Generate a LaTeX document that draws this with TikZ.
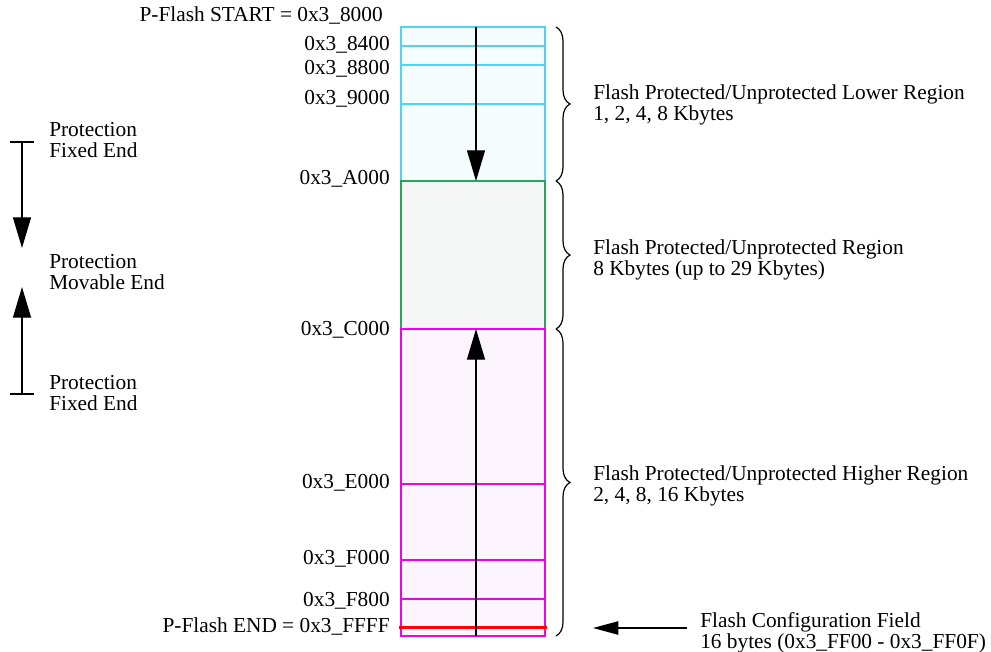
\documentclass[tikz,border=0pt]{standalone}
\usepackage{fontspec}
\setmainfont{Liberation Serif}
\usetikzlibrary{arrows.meta, positioning, decorations.pathreplacing}
\definecolor{lowline}{HTML}{4CD6F4}
\definecolor{lowfill}{HTML}{F5FCFE}
\definecolor{midline}{HTML}{28A660}
\definecolor{midfill}{HTML}{F4F7F5}
\definecolor{highline}{HTML}{F000F0}
\definecolor{highfill}{HTML}{FDF5FD}
\tikzset{
  addr/.style={anchor=base east, inner sep=0pt},
  note/.style={anchor=west, align=left, inner sep=0pt},
  bigtip/.style={-{Triangle[length=23pt, width=13.5pt]}, line width=1pt},
  smalltip/.style={-{Triangle[length=19pt, width=10pt]}, line width=1pt},
  regionbrace/.style={decorate, decoration={brace, amplitude=10.5pt}, line width=0.9pt}
}

\begin{document}
\begin{tikzpicture}[x=0.75pt, y=-0.75pt, every node/.style={font=\fontsize{16}{15.4}\selectfont}]
\useasboundingbox (0,0) rectangle (991,652);
% Lower region (cyan)
\fill[lowfill] (401,27) rectangle (545,181);
\foreach \yy in {46,65,104}
  \draw[lowline, line width=0.9pt] (401,\yy) -- (545,\yy);
\draw[lowline, line width=0.9pt] (401,181) -- (401,27) -- (545,27) -- (545,181);
% Middle region (green)
\fill[midfill] (401,181) rectangle (545,329);
\draw[midline, line width=0.9pt] (401,329) -- (401,181) -- (545,181) -- (545,329);
% Higher region (magenta)
\fill[highfill] (401,329) rectangle (545,636);
\foreach \yy in {484,560,599}
  \draw[highline, line width=0.9pt] (401,\yy) -- (545,\yy);
\draw[highline, line width=0.9pt] (401,329) rectangle (545,636);
% Configuration field
\draw[red, line width=2.2pt] (399,627.5) -- (547,627.5);
% Boundary points
\coordinate (flashtop) at (476,27);
\coordinate (atA000) at (476,181);
\coordinate (atC000) at (476,329);
\coordinate (flashbot) at (476,636);
% Addresses
\node[addr] (start) at (383,22) {P-Flash START = 0x3\_8000};
\node[addr] (a8400) at (390,51) {0x3\_8400};
\node[addr] (a8800) at (390,75) {0x3\_8800};
\node[addr] (a9000) at (390,105) {0x3\_9000};
\node[addr] (aA000) at (390,185) {0x3\_A000};
\node[addr] (aC000) at (390,335) {0x3\_C000};
\node[addr] (aE000) at (390,488) {0x3\_E000};
\node[addr] (aF000) at (390,564) {0x3\_F000};
\node[addr] (aF800) at (390,606) {0x3\_F800};
\node[addr] (pend) at (390,632) {P-Flash END = 0x3\_FFFF};
% Protection direction arrows
\draw[bigtip] (flashtop) -- (atA000);
\draw[bigtip] (flashbot) -- (atC000);
% Region braces
\draw[regionbrace] (556,27) -- (556,181) coordinate[midway, xshift=14pt] (lowtip);
\draw[regionbrace] (556,181) -- (556,329) coordinate[midway, xshift=14pt] (midtip);
\draw[regionbrace] (556,329) -- (556,636) coordinate[midway, xshift=14pt] (hightip);
\node[note] (lowtxt) at (593,105) {Flash Protected/Unprotected Lower Region\\1, 2, 4, 8 Kbytes};
\node[note] (midtxt) at (593,260) {Flash Protected/Unprotected Region\\8 Kbytes (up to 29 Kbytes)};
\node[note] (hightxt) at (593,486) {Flash Protected/Unprotected Higher Region\\2, 4, 8, 16 Kbytes};
% Configuration field note
\node[note] (cfgtxt) at (700,633) {Flash Configuration Field\\16 bytes (0x3\_FF00 - 0x3\_FF0F)};
\coordinate (cfgtail) at (687,628);
\coordinate (cfghead) at (593,628);
\draw[smalltip] (cfgtail) -- (cfghead);
% Legend on the left
\node[note] (fixtop) at (49,140) {Protection\\Fixed End};
\node[note] (movable) at (49,272) {Protection\\Movable End};
\node[note] (fixbot) at (49,393) {Protection\\Fixed End};
\coordinate (topbar) at (22,142);
\coordinate (toptip) at (22,248);
\coordinate (botbar) at (22,394);
\coordinate (bottip) at (22,287);
\draw[line width=1pt] ([xshift=-9pt]topbar) -- ([xshift=9pt]topbar);
\draw[line width=1pt] ([xshift=-9pt]botbar) -- ([xshift=9pt]botbar);
\draw[bigtip] (topbar) -- (toptip);
\draw[bigtip] (botbar) -- (bottip);
\end{tikzpicture}
\end{document}
